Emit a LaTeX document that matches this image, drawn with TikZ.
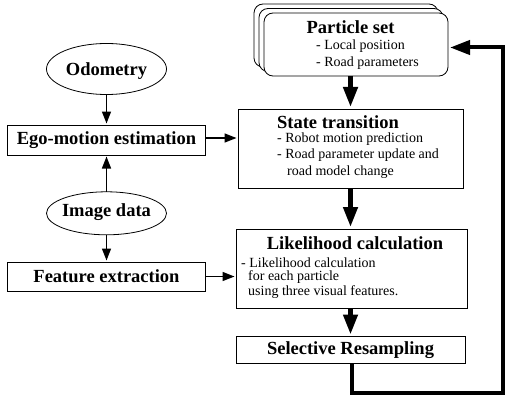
\documentclass[tikz,border=0pt]{standalone}
\usepackage{fontspec}
\setmainfont{Liberation Serif}
\usetikzlibrary{arrows.meta,shapes.geometric}
\begin{document}
\begin{tikzpicture}[x=1pt,y=-1pt,
  box/.style={draw, line width=0.8pt, fill=white, inner sep=0pt, outer sep=0pt},
  pset/.style={box, rounded corners=9pt, minimum width=184pt, minimum height=63pt},
  oval/.style={draw, ellipse, line width=0.8pt, inner sep=0pt, outer sep=0pt, minimum width=120pt},
  ttl/.style={font=\fontsize{18.5}{22}\selectfont\bfseries, inner sep=0pt},
  sm/.style={font=\fontsize{14}{16.5}\selectfont, inner sep=0pt, anchor=west},
  thinarr/.style={line width=1.6pt, -{Triangle[width=9pt,length=12pt]}, shorten >=1.5pt},
  thickarr/.style={line width=4.5pt, -{Triangle[width=14pt,length=20pt]}, shorten >=2pt}]
\useasboundingbox (0,0) rectangle (505,401);

% Particle set stack
\node[pset] (psback) at (346,35.5) {};
\node[pset] (psmid) at (351,40) {};
\node[pset] (ps) at (356,44.5) {};
\node[ttl] (pst) at (350.5,27) {Particle set};
\node[sm] (ps1) at (316,46) {- Local position};
\node[sm] (ps2) at (316,63) {- Road parameters};

% State transition
\node[box, minimum width=225pt, minimum height=79pt] (st) at (350.5,148.5) {};
\node[ttl] (stt) at (338,122) {State transition};
\node[sm] (st1) at (277,139) {- Robot motion prediction};
\node[sm] (st2) at (277,155.5) {- Road parameter update and};
\node[sm] (st3) at (287,172) {road model change};

% Likelihood calculation
\node[box, minimum width=231pt, minimum height=79pt] (lc) at (351.5,268.5) {};
\node[ttl] (lct) at (355,243) {Likelihood calculation};
\node[sm] (lc1) at (241,263) {- Likelihood calculation};
\node[sm] (lc2) at (248,277.5) {for each particle};
\node[sm] (lc3) at (248,292) {using three visual features.};

% Selective Resampling
\node[box, ttl, minimum width=229pt, minimum height=27pt] (sr) at (350.5,350) {Selective Resampling};

% Left column
\node[oval, minimum height=51pt] (odo) at (106.5,69) {};
\node[ttl] (odot) at (106.5,71.5) {Odometry};
\node[box, ttl, minimum width=198pt, minimum height=30pt] (ego) at (106.5,140) {Ego-motion estimation};
\node[oval, minimum height=43pt] (img) at (106.5,213.3) {};
\node[ttl] (imgt) at (106.5,211.7) {Image data};
\node[box, ttl, minimum width=198pt, minimum height=29pt] (fe) at (106.5,276.5) {Feature extraction};

% Thin connectors
\coordinate (egoe) at ([yshift=2pt]ego.east);
\draw[thinarr] (odo.south) -- (ego.north);
\draw[thinarr] (img.north) -- (ego.south);
\draw[thinarr] (img.south) -- (fe.north);
\draw[thinarr] (egoe) -- (st.west |- egoe);
\draw[thinarr] (fe.east) -- (lc.west |- fe.east);

% Thick connectors
\draw[thickarr] (st.north |- ps.south) -- (st.north);
\draw[thickarr] (st.south) -- (st.south |- lc.north);
\draw[thickarr] (sr.north |- lc.south) -- (sr.north);

% Feedback loop
\coordinate (srs) at ([xshift=1.5pt]sr.south);
\coordinate (fb1) at (503,393);
\coordinate (fb2) at (503,47.5);
\draw[thickarr, line width=4pt] (srs) -- (srs |- fb1) -- (fb1) -- (fb2) -- (ps.east |- fb2);
\end{tikzpicture}
\end{document}
